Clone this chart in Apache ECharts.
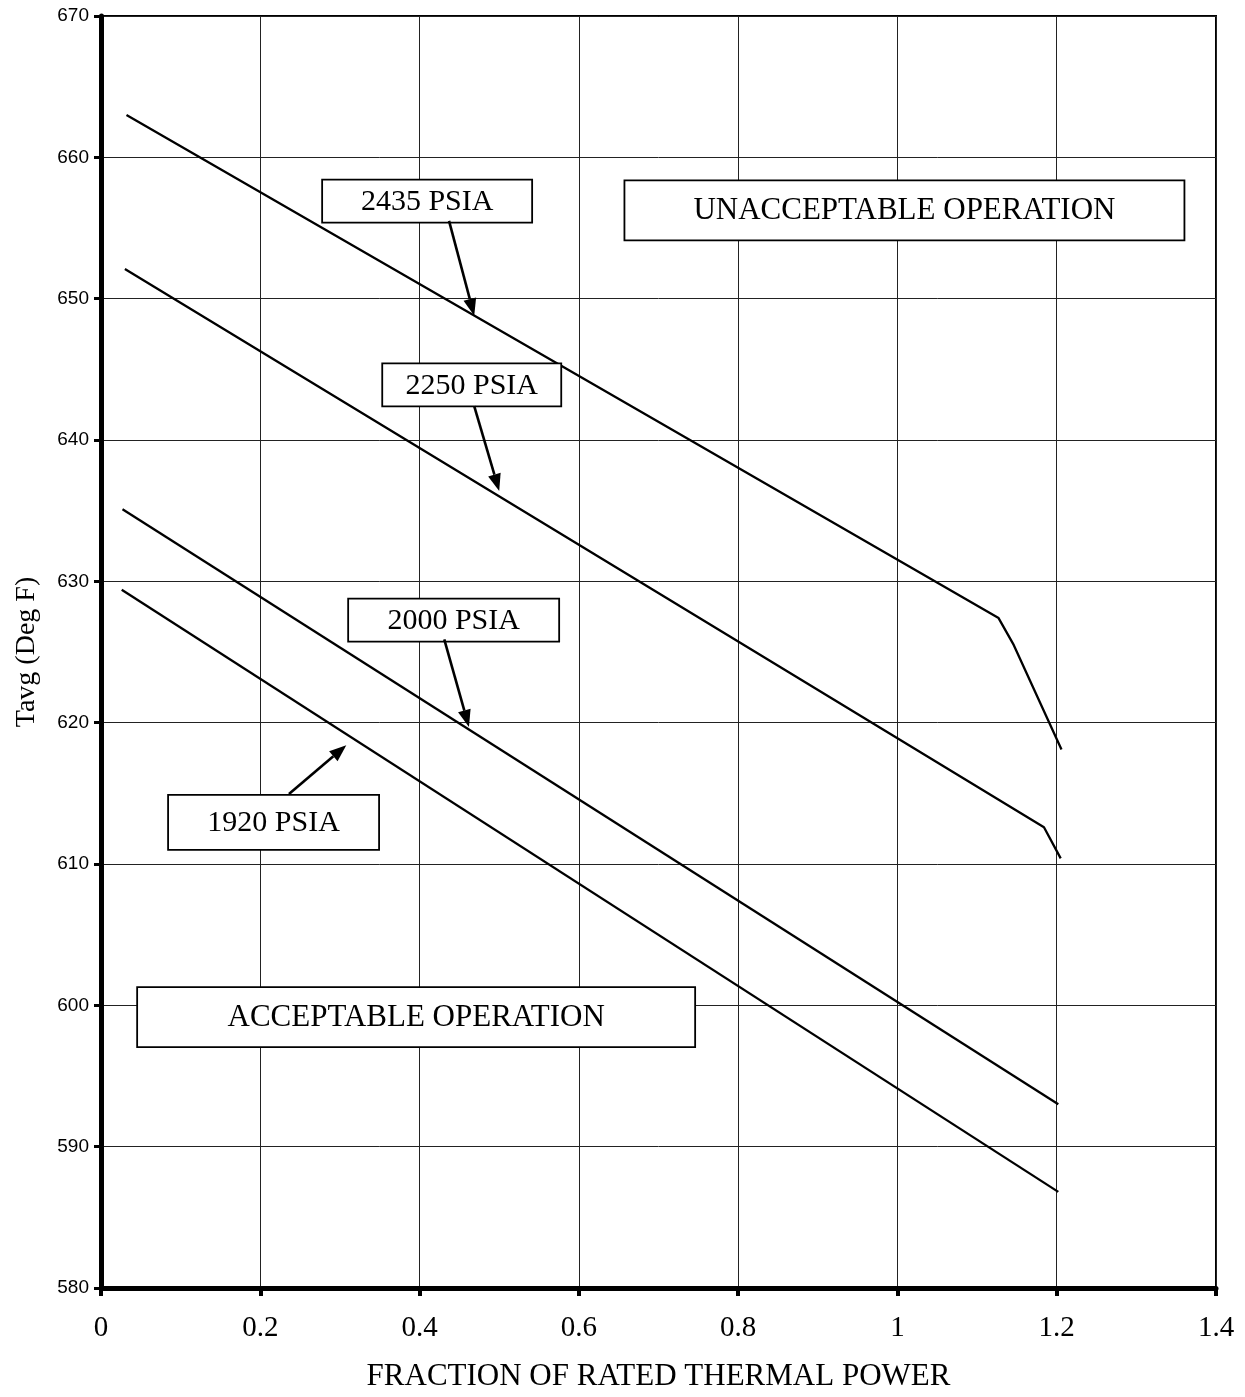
<!DOCTYPE html>
<html><head><meta charset="utf-8">
<script src="https://cdn.jsdelivr.net/npm/echarts@6/dist/echarts.min.js"></script>
<style>html,body{margin:0;padding:0;background:#fff}#c{width:1245px;height:1397px}</style>
</head><body><div id="c"></div>
<script>
// ---- data ----
const psia2435 = [[0.032, 663.0], [1.127, 627.4], [1.146, 625.5], [1.206, 618.1]];
const psia2250 = [[0.030, 652.1], [1.184, 612.6], [1.205, 610.4]];
const psia2000 = [[0.027, 635.1], [1.202, 593.0]];
const psia1920 = [[0.026, 629.4], [1.202, 586.8]];
const xTickLabels = ['0', '0.2', '0.4', '0.6', '0.8', '1', '1.2', '1.4'];
const yTickLabels = ['580', '590', '600', '610', '620', '630', '640', '650', '660', '670'];
const boxLabels = ['2435 PSIA', '2250 PSIA', '2000 PSIA', '1920 PSIA', 'UNACCEPTABLE OPERATION', 'ACCEPTABLE OPERATION'];
const boxAnchors = [[0.4095, 656.9], [0.4655, 643.9], [0.4428, 627.25], [0.2167, 612.95], [1.0088, 656.25], [0.3957, 599.17]];
const arrowFrom = [[0.437, 655.5], [0.4686, 642.4], [0.431, 625.9], [0.236, 614.95]];
const arrowTo = [[0.4686, 648.8], [0.500, 636.4], [0.462, 619.7], [0.308, 618.4]];

// ---- styles ----
const boxSize = [[210, 43], [179, 43], [211, 43], [211, 55], [560, 60], [558, 60]];
const boxFont = [30, 30, 30, 30, 31, 31];
const SERIF = '"Liberation Serif", "Times New Roman", serif';
const SANS = '"Liberation Sans", Arial, sans-serif';

const chart = echarts.init(document.getElementById('c'), null, {renderer: 'canvas'});
const lineStyle = {color: '#000', width: 2.3};
function mk(name, data) {
  return {name, type: 'line', data, showSymbol: false, symbol: 'none', lineStyle, itemStyle: {color: '#000'}, animation: false, z: 3};
}
chart.setOption({
  backgroundColor: '#fff',
  animation: false,
  grid: {left: 101, right: 29, top: 16, bottom: 104, show: true, borderColor: '#000', borderWidth: 2, backgroundColor: 'transparent'},
  xAxis: {
    type: 'value', min: 0, max: 1.4, interval: 0.2,
    name: 'FRACTION OF RATED THERMAL POWER', nameLocation: 'middle', nameGap: 73,
    nameTextStyle: {fontFamily: SERIF, fontSize: 31, color: '#000'},
    axisLine: {show: true, onZero: false, lineStyle: {color: '#000', width: 5}},
    axisTick: {show: true, inside: false, length: 8, lineStyle: {color: '#000', width: 4}},
    axisLabel: {margin: 26, fontFamily: SERIF, fontSize: 29, color: '#000',
      formatter: (v) => xTickLabels[Math.round(v / 0.2)]},
    splitLine: {show: true, lineStyle: {color: '#222', width: 1}}
  },
  yAxis: {
    type: 'value', min: 580, max: 670, interval: 10,
    name: 'Tavg (Deg F)', nameLocation: 'middle', nameGap: 60, nameRotate: 90,
    nameTextStyle: {fontFamily: SERIF, fontSize: 28, color: '#000'},
    axisLine: {show: true, onZero: false, lineStyle: {color: '#000', width: 5}},
    axisTick: {show: true, inside: false, length: 7, lineStyle: {color: '#000', width: 3}},
    axisLabel: {margin: 12, fontFamily: SANS, fontSize: 19, color: '#000',
      formatter: (v) => yTickLabels[Math.round((v - 580) / 10)]},
    splitLine: {show: true, lineStyle: {color: '#222', width: 1}}
  },
  series: [mk('2435 PSIA', psia2435), mk('2250 PSIA', psia2250), mk('2000 PSIA', psia2000), mk('1920 PSIA', psia1920)]
});

function conv(p) { return chart.convertToPixel({gridIndex: 0}, p); }
const g = [];
boxAnchors.forEach((a, i) => {
  const p = conv(a);
  const w = boxSize[i][0], h = boxSize[i][1];
  g.push({type: 'rect', shape: {x: p[0] - w / 2, y: p[1] - h / 2, width: w, height: h},
    style: {fill: '#fff', stroke: '#000', lineWidth: 1.8}, z: 10});
  g.push({type: 'text', x: p[0], y: p[1] + 1, z: 11,
    style: {text: boxLabels[i], fontFamily: SERIF, fontSize: boxFont[i], fill: '#000',
      align: 'center', verticalAlign: 'middle', textAlign: 'center', textVerticalAlign: 'middle'}});
});
arrowFrom.forEach((a, i) => {
  const p1 = conv(a), p2 = conv(arrowTo[i]);
  const dx = p2[0] - p1[0], dy = p2[1] - p1[1], L = Math.hypot(dx, dy);
  const ux = dx / L, uy = dy / L, hl = 17, hw = 6.5;
  const bx = p2[0] - ux * hl, by = p2[1] - uy * hl;
  g.push({type: 'line', shape: {x1: p1[0], y1: p1[1], x2: bx, y2: by}, style: {stroke: '#000', lineWidth: 2.6}, z: 12});
  g.push({type: 'polygon', shape: {points: [[p2[0], p2[1]], [bx - uy * hw, by + ux * hw], [bx + uy * hw, by - ux * hw]]},
    style: {fill: '#000'}, z: 12});
});
chart.setOption({graphic: g});
</script>
</body></html>
